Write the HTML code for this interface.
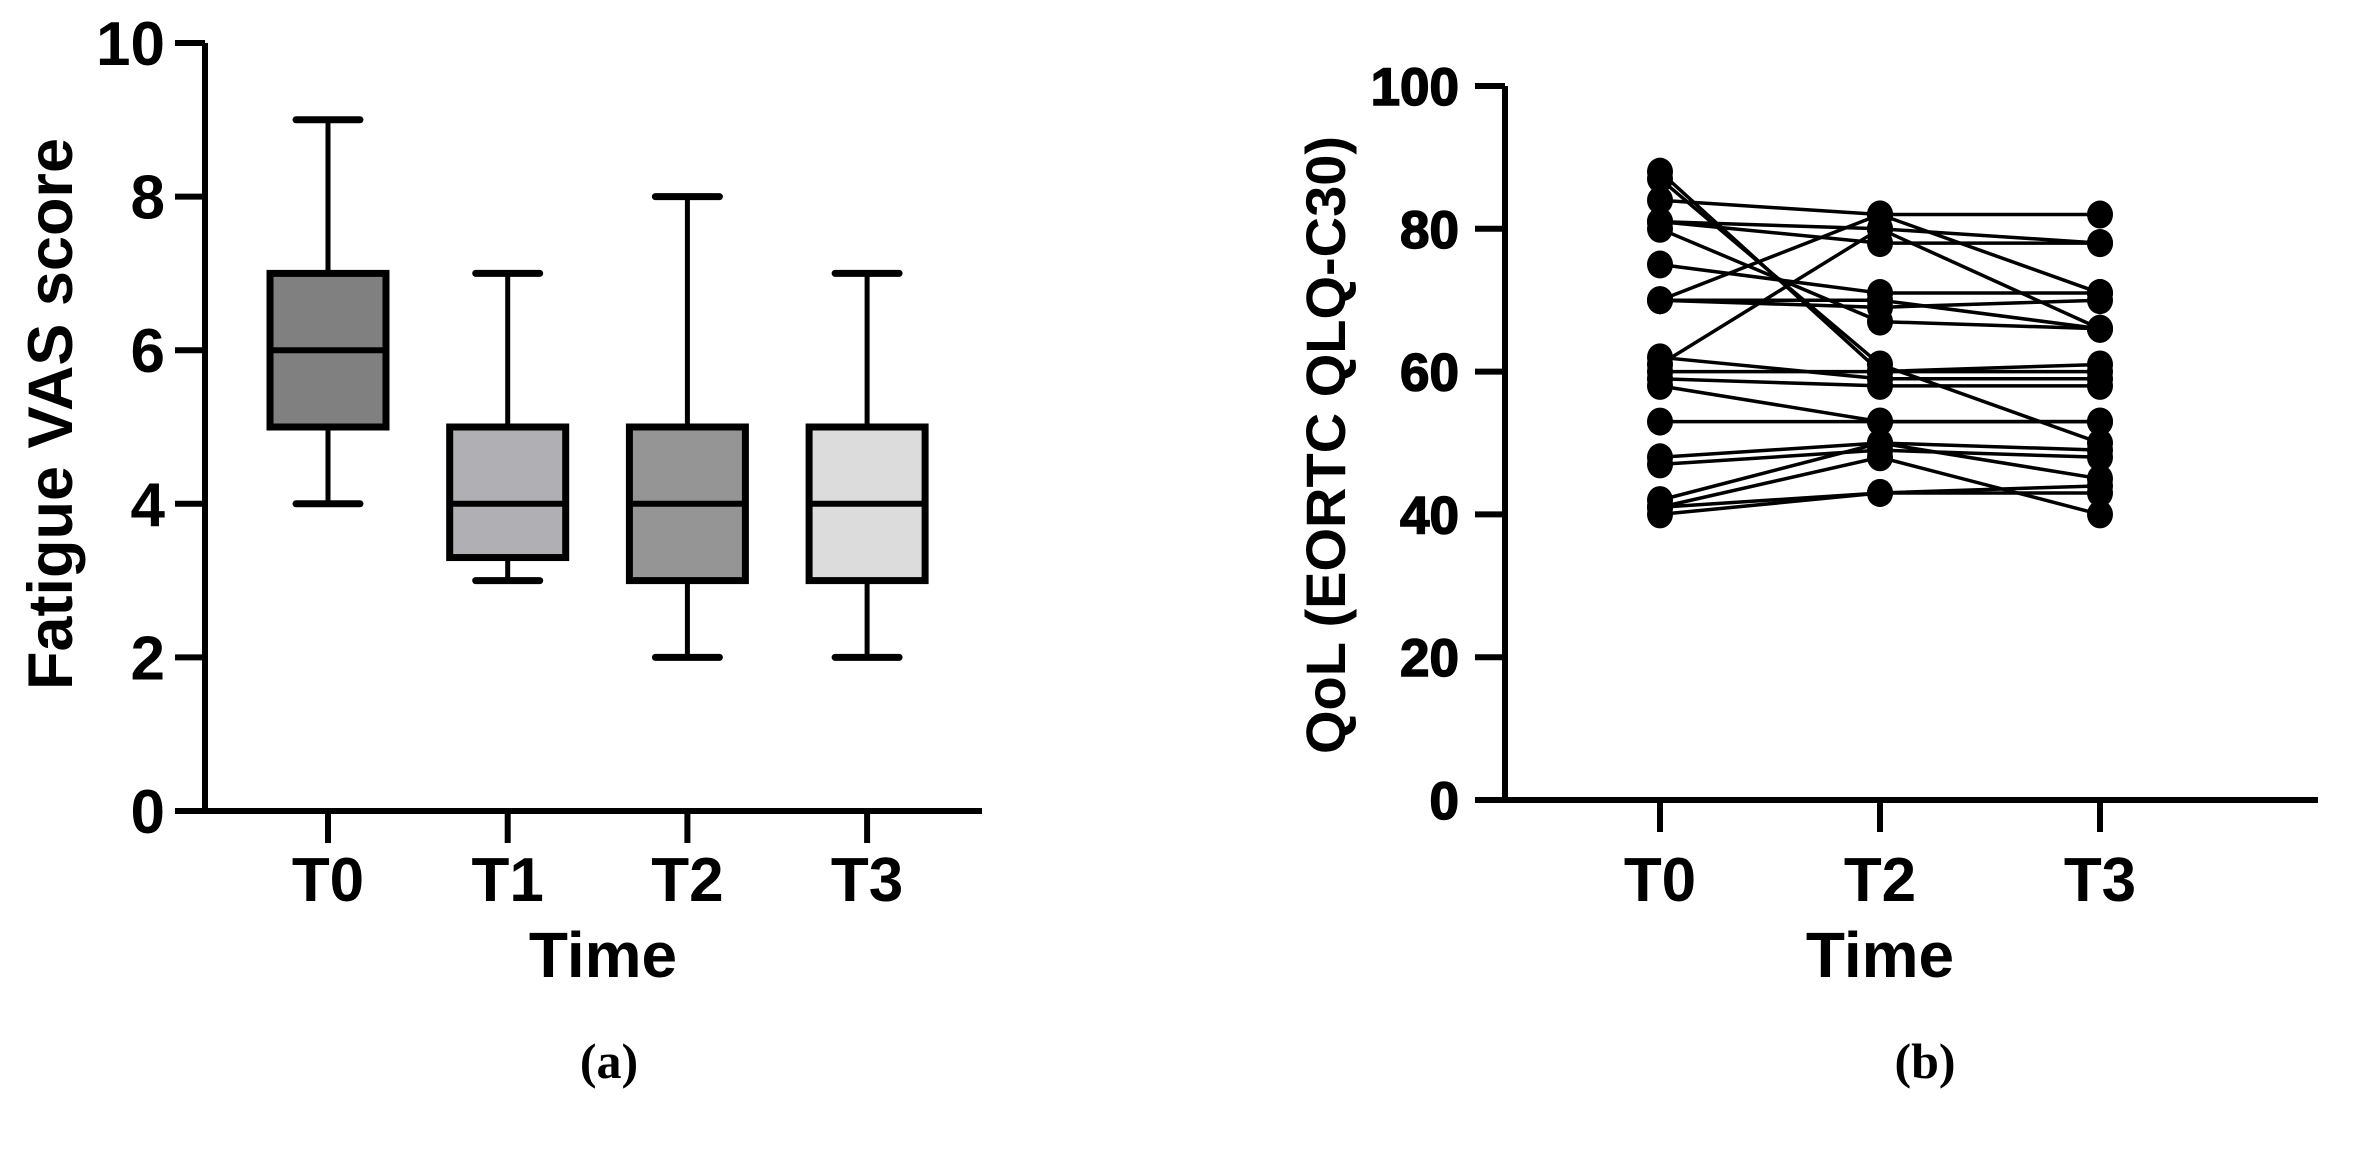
<!DOCTYPE html>
<html><head><meta charset="utf-8"><style>
html,body{margin:0;padding:0;background:#fff;}
svg{display:block;}
text{font-family:"Liberation Sans",Arial,sans-serif;font-weight:bold;fill:#000;}
</style></head><body>
<svg id="fig" width="2362" height="1160" viewBox="0 0 2362 1160">
<g id="pa"></g>
<g id="pb"></g>
<text x="609" y="1078" text-anchor="middle" style="font-family:'Liberation Serif',serif;font-size:50px">(a)</text>
<text x="1925" y="1078" text-anchor="middle" style="font-family:'Liberation Serif',serif;font-size:50px">(b)</text>
</svg>
<script>
// Panel A data
const boxCats = ["T0","T1","T2","T3"];
const boxMin = [4,3,2,2];
const boxQ1 = [5,3.3,3,3];
const boxMed = [6,4,4,4];
const boxQ3 = [7,5,5,5];
const boxMax = [9,7,8,7];
const boxFills = ["#808080","#b0b0b4","#959595","#dcdcdc"];
const aTicks = [0,2,4,6,8,10];
// Panel B data
const qolCats = ["T0","T2","T3"];
const qolT0 = [88,87,84,81,81,80,75,70,70,70,61,62,60,59,58,53,48,47,42,41,41,40];
const qolT2 = [60,61,82,80,78,67,71,82,70,69,80,59,60,58,53,53,50,49,50,48,43,43];
const qolT3 = [60,50,82,78,78,66,71,71,66,70,66,59,61,58,53,53,49,48,45,40,44,43];
const bTicks = [0,20,40,60,80,100];

const NS="http://www.w3.org/2000/svg";
function mk(parent,tag,attrs){const e=document.createElementNS(NS,tag);for(const k in attrs)e.setAttribute(k,attrs[k]);parent.appendChild(e);return e;}

// ---- Panel A
(function(){
const g=document.getElementById('pa');
const ax=205, x1=982, y0=811, yTop=43;
const ya=v=>y0-(y0-yTop)*v/10;
const xa=i=>328+i*179.7;
const bw=116, cw=64;
boxCats.forEach((c,i)=>{
  const cx=xa(i);
  let l=mk(g,'line',{x1:cx,x2:cx,y1:ya(boxMax[i]),y2:ya(boxQ3[i]),stroke:'#000','stroke-width':5});
  
  
  l=mk(g,'line',{x1:cx,x2:cx,y1:ya(boxQ1[i]),y2:ya(boxMin[i]),stroke:'#000','stroke-width':5});
  
  
  l=mk(g,'line',{x1:cx-cw/2,x2:cx+cw/2,y1:ya(boxMax[i]),y2:ya(boxMax[i]),stroke:'#000','stroke-width':7,'stroke-linecap':'round'});
  
  
  l=mk(g,'line',{x1:cx-cw/2,x2:cx+cw/2,y1:ya(boxMin[i]),y2:ya(boxMin[i]),stroke:'#000','stroke-width':7,'stroke-linecap':'round'});
  
  
  const r=mk(g,'rect',{x:cx-bw/2,y:ya(boxQ3[i]),width:bw,height:ya(boxQ1[i])-ya(boxQ3[i]),fill:boxFills[i],stroke:'#000','stroke-width':7});
  
  
  l=mk(g,'line',{x1:cx-bw/2,x2:cx+bw/2,y1:ya(boxMed[i]),y2:ya(boxMed[i]),stroke:'#000','stroke-width':6});
  
  
  const tk=mk(g,'line',{x1:cx,x2:cx,y1:y0,y2:y0+32,stroke:'#000','stroke-width':6});
  
  
  const t=mk(g,'text',{x:cx,y:901,'text-anchor':'middle','font-size':62});
  t.textContent=c;
  
  
});
let a=mk(g,'path',{d:`M${ax},${yTop} V${y0} H${x1}`,stroke:'#000','stroke-width':6,fill:'none'});


aTicks.forEach(v=>{
  const l=mk(g,'line',{x1:ax-30,x2:ax,y1:ya(v),y2:ya(v),stroke:'#000','stroke-width':6});
  
  
  const t=mk(g,'text',{x:ax-40,y:ya(v)+22,'text-anchor':'end','font-size':62});
  t.textContent=v;
  
  
});
let yt=mk(g,'text',{x:0,y:0,'text-anchor':'middle','font-size':63,transform:'translate(72,414) rotate(-90)'});
yt.textContent='Fatigue VAS score';


let xt=mk(g,'text',{x:603,y:977,'text-anchor':'middle','font-size':64});
xt.textContent='Time';


})();

// ---- Panel B
(function(){
const g=document.getElementById('pb');
const ax=1505, x1=2318, y0=800, yTop=86;
const yb=v=>y0-(y0-yTop)*v/100;
const xb=i=>1660+i*220;
const series=[qolT0,qolT2,qolT3];
const lg=mk(g,'g',{});


qolT0.forEach((v,s)=>{
  const pts=series.map((arr,i)=>xb(i)+','+yb(arr[s])).join(' ');
  const p=mk(lg,'polyline',{points:pts,fill:'none',stroke:'#000','stroke-width':3.5});
  
  
});
const dg=mk(g,'g',{});


series.forEach((arr,i)=>arr.forEach((v,s)=>{
  const c=mk(dg,'ellipse',{cx:xb(i),cy:yb(v),rx:13,ry:14,fill:'#000'});
  
  
}));
let a=mk(g,'path',{d:`M${ax},${yTop} V${y0} H${x1}`,stroke:'#000','stroke-width':6,fill:'none'});


bTicks.forEach(v=>{
  const l=mk(g,'line',{x1:ax-30,x2:ax,y1:yb(v),y2:yb(v),stroke:'#000','stroke-width':6});
  
  
  const t=mk(g,'text',{x:ax-46,y:yb(v)+19,'text-anchor':'end','font-size':53,stroke:'#000','stroke-width':1.5});
  t.textContent=v;
  
  
});
qolCats.forEach((c,i)=>{
  const l=mk(g,'line',{x1:xb(i),x2:xb(i),y1:y0,y2:y0+32,stroke:'#000','stroke-width':6});
  
  
  const t=mk(g,'text',{x:xb(i),y:901,'text-anchor':'middle','font-size':62});
  t.textContent=c;
  
  
});
let yt=mk(g,'text',{x:0,y:0,'text-anchor':'middle','font-size':56,transform:'translate(1345,445) rotate(-90)'});
yt.textContent='QoL (EORTC QLQ-C30)';


let xt=mk(g,'text',{x:1880,y:977,'text-anchor':'middle','font-size':64});
xt.textContent='Time';


})();
</script>
</body></html>
